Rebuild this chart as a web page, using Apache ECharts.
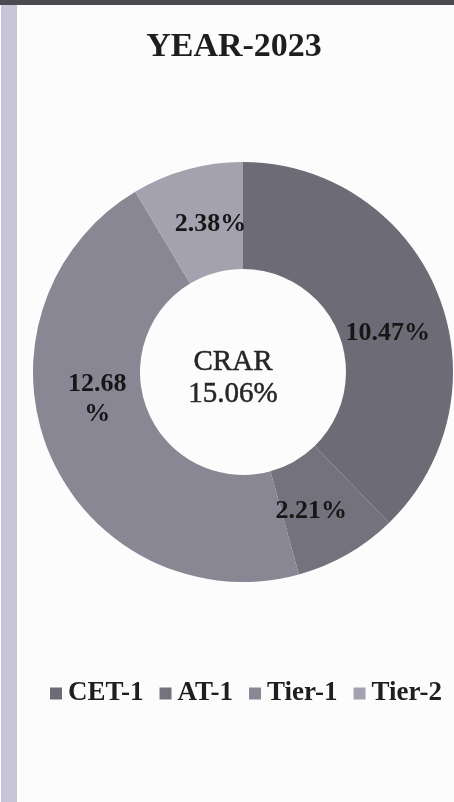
<!DOCTYPE html>
<html>
<head>
<meta charset="utf-8">
<script src="https://cdn.jsdelivr.net/npm/echarts@6/dist/echarts.min.js"></script>
<style>
html,body{margin:0;padding:0;background:#fcfcfc;}
#c{width:454px;height:802px;}
</style>
</head>
<body>
<div id="c"></div>
<script>
var categories = ['CET-1', 'AT-1', 'Tier-1', 'Tier-2'];
var values = [10.47, 2.21, 12.68, 2.38];
var labelTexts = ['10.47%', '2.21%', '12.68\n%', '2.38%'];
var colors = ['#6d6b76', '#74727d', '#898794', '#a4a2ae'];
var labelShift = [[-3, 21], [-11, 1], [1, -35], [10, 6]];
var titleText = 'YEAR-2023';
var centerName = 'CRAR';
var centerValue = '15.06%';

var serif = '"Liberation Serif", "DejaVu Serif", serif';
var chart = echarts.init(document.getElementById('c'));
var data = categories.map(function (c, i) {
  return { name: c, value: values[i], itemStyle: { color: colors[i] }, label: { formatter: labelTexts[i] } };
});
chart.setOption({
  backgroundColor: '#fcfcfc',
  graphic: [
    { type: 'rect', shape: { x: 0, y: 0, width: 454, height: 5 }, style: { fill: '#4a4a4f' } },
    { type: 'rect', shape: { x: 1, y: 5, width: 16, height: 797 }, style: { fill: '#c6c4d6' } }
  ],
  title: [
    { text: titleText, left: 234, top: 30, textAlign: 'center', padding: 0,
      textStyle: { fontFamily: serif, fontWeight: 'bold', fontSize: 34, color: '#1e1e1e' } },
    { text: centerName + '\n' + centerValue, left: 233, top: 346, textAlign: 'center', padding: 0,
      textStyle: { fontFamily: serif, fontWeight: 'normal', fontSize: 29, lineHeight: 32, color: '#262626',
        textBorderColor: '#262626', textBorderWidth: 0.5 } }
  ],
  legend: {
    data: categories,
    bottom: 95,
    left: 50,
    width: 404,
    padding: 0,
    itemWidth: 12,
    itemHeight: 12,
    itemGap: 16,
    icon: 'rect',
    textStyle: { fontFamily: serif, fontWeight: 'bold', fontSize: 27, color: '#1e1e1e', padding: [0, 0, 0, 1] }
  },
  series: [{
    type: 'pie',
    center: [243, 372],
    radius: [103, 210],
    startAngle: 90,
    clockwise: true,
    avoidLabelOverlap: false,
    itemStyle: { borderWidth: 0 },
    label: {
      show: true,
      position: 'inside',
      fontFamily: serif,
      fontWeight: 'bold',
      fontSize: 26,
      lineHeight: 30,
      color: '#161616'
    },
    labelLayout: function (p) {
      var s = labelShift[p.dataIndex];
      return { dx: s[0], dy: s[1] };
    },
    labelLine: { show: false },
    emphasis: { disabled: true },
    data: data
  }]
});
</script>
</body>
</html>
